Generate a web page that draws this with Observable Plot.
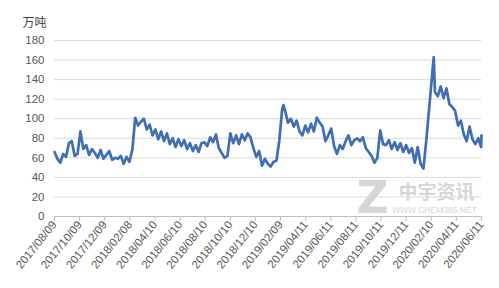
<!DOCTYPE html>
<html>
<head>
<meta charset="utf-8">
<script src="https://cdn.jsdelivr.net/npm/d3@7"></script>
<script src="https://cdn.jsdelivr.net/npm/@observablehq/plot@0.6"></script>
<style>
  html, body { margin: 0; padding: 0; background: #ffffff; }
  #chart { width: 499px; height: 288px; }
</style>
</head>
<body>
<div id="chart"></div>
<script>
const unitLabel = "万吨";
const yTicks = [0, 20, 40, 60, 80, 100, 120, 140, 160, 180];
const xTickLabels = ["2017-08-09","2017-10-09","2017-12-09","2018-02-08","2018-04-10","2018-06-10","2018-08-10","2018-10-10","2018-12-10","2019-02-09","2019-04-11","2019-06-11","2019-08-11","2019-10-11","2019-12-11","2020-02-10","2020-04-11","2020-06-11"];

const dates = [
"2017-08-09","2017-08-16","2017-08-23","2017-08-30","2017-09-06","2017-09-13","2017-09-20","2017-09-27",
"2017-10-04","2017-10-11","2017-10-18","2017-10-25","2017-11-01","2017-11-08","2017-11-15","2017-11-22","2017-11-29",
"2017-12-06","2017-12-13","2017-12-20","2017-12-27",
"2018-01-03","2018-01-10","2018-01-17","2018-01-24","2018-01-31","2018-02-07","2018-02-14","2018-02-21","2018-02-28",
"2018-03-07","2018-03-14","2018-03-21","2018-03-28","2018-04-04","2018-04-11","2018-04-18","2018-04-25",
"2018-05-02","2018-05-09","2018-05-16","2018-05-23","2018-05-30","2018-06-06","2018-06-13","2018-06-20","2018-06-27",
"2018-07-04","2018-07-11","2018-07-18","2018-07-25","2018-08-01","2018-08-08","2018-08-15","2018-08-22","2018-08-29",
"2018-09-05","2018-09-12","2018-09-19","2018-09-26","2018-10-03","2018-10-10","2018-10-17","2018-10-24","2018-10-31",
"2018-11-07","2018-11-14","2018-11-21","2018-11-28","2018-12-05","2018-12-12","2018-12-19","2018-12-26",
"2019-01-02","2019-01-09","2019-01-16","2019-01-23","2019-01-30","2019-02-06","2019-02-13","2019-02-16","2019-02-20","2019-02-27",
"2019-03-06","2019-03-13","2019-03-20","2019-03-27","2019-04-03","2019-04-10","2019-04-17","2019-04-24",
"2019-05-01","2019-05-08","2019-05-15","2019-05-22","2019-05-29","2019-06-05","2019-06-12","2019-06-19","2019-06-26",
"2019-07-03","2019-07-10","2019-07-17","2019-07-24","2019-07-31","2019-08-07","2019-08-14","2019-08-21","2019-08-28",
"2019-09-04","2019-09-11","2019-09-18","2019-09-25","2019-10-02","2019-10-09","2019-10-16","2019-10-23","2019-10-30",
"2019-11-06","2019-11-13","2019-11-20","2019-11-27","2019-12-04","2019-12-11","2019-12-18","2019-12-25",
"2020-01-01","2020-01-08","2020-01-15","2020-01-22","2020-01-29","2020-02-05","2020-02-12","2020-02-16","2020-02-19","2020-02-26",
"2020-03-04","2020-03-11","2020-03-18","2020-03-25","2020-04-01","2020-04-08","2020-04-15","2020-04-22","2020-04-29",
"2020-05-06","2020-05-13","2020-05-20","2020-05-27","2020-06-03","2020-06-10","2020-06-11"
];

const values = [
66,59,55,64,61,75,77,62,
64,87,69,73,63,69,65,60,68,
59,63,67,58,
60,59,62,54,61,56,68,101,93,
97,100,89,94,83,89,79,87,
77,85,74,80,71,79,72,78,69,
75,67,73,66,75,76,72,81,76,
84,70,65,60,62,85,75,83,74,
84,78,85,81,70,61,67,52,
59,54,51,56,57,78,110,114,108,96,
100,92,98,87,83,93,86,95,
87,101,96,92,77,83,90,72,64,
73,69,77,83,73,78,80,77,81,
70,66,62,55,60,88,74,73,78,
69,76,68,75,66,73,65,70,
55,71,54,49,78,111,144,163,127,123,
133,121,131,115,112,108,93,98,84,
77,92,79,74,80,71,83
];

const data = dates.map((d, i) => ({date: new Date(d), value: values[i]}));
const tickDates = xTickLabels.map(d => new Date(d));

const font = "'Liberation Sans', 'Noto Sans CJK SC', Arial, sans-serif";

const chart = Plot.plot({
  width: 499,
  height: 288,
  marginLeft: 54,
  marginRight: 18,
  marginTop: 40,
  marginBottom: 72,
  style: {fontFamily: font, fontSize: "11px", color: "#595959", background: "#ffffff"},
  x: {type: "utc", domain: [new Date("2017-08-09"), new Date("2020-06-11")]},
  y: {domain: [0, 180]},
  marks: [
    Plot.gridY(yTicks.filter(v => v > 0), {stroke: "#d9d9d9", strokeOpacity: 1, strokeWidth: 1}),
    Plot.axisY({ticks: yTicks, tickSize: 0, tickPadding: 10, label: null, fontSize: 11.5, fill: "#595959"}),
    Plot.ruleY([0], {stroke: "#bfbfbf", strokeWidth: 1}),
    Plot.axisX({ticks: tickDates, tickFormat: d3.utcFormat("%Y/%m/%d"), tickSize: 5, stroke: "#bfbfbf", tickRotate: -51, tickPadding: 1, label: null, fontSize: 11.5, fill: "#595959"}),
    Plot.text(["Z"], {frameAnchor: "bottom-right", dx: -109, dy: -18, fontSize: 44, fontWeight: "bold", fill: "#d6d6d6", textAnchor: "middle", lineAnchor: "middle", fontFamily: "'DejaVu Sans', sans-serif"}),
    Plot.text(["中宇资讯"], {frameAnchor: "bottom-right", dx: -45, dy: -24, fontSize: 19, fontWeight: "bold", fill: "#d6d6d6", textAnchor: "middle", lineAnchor: "middle", fontFamily: "'Noto Sans CJK SC', sans-serif"}),
    Plot.text(["WWW.CHEM365.NET"], {frameAnchor: "bottom-right", dx: -47, dy: -6, fontSize: 8.5, fill: "#d6d6d6", textAnchor: "middle", lineAnchor: "middle"}),
    Plot.lineY(data, {x: "date", y: "value", stroke: "#3e6fb6", strokeWidth: 2.7, strokeLinejoin: "round"}),
    Plot.text([unitLabel], {frameAnchor: "top-left", dx: -32, dy: -17, fontSize: 12, fill: "#404040", textAnchor: "start", lineAnchor: "middle", fontFamily: "'Noto Sans CJK SC', sans-serif"})
  ]
});
document.getElementById("chart").appendChild(chart);
</script>
</body>
</html>
